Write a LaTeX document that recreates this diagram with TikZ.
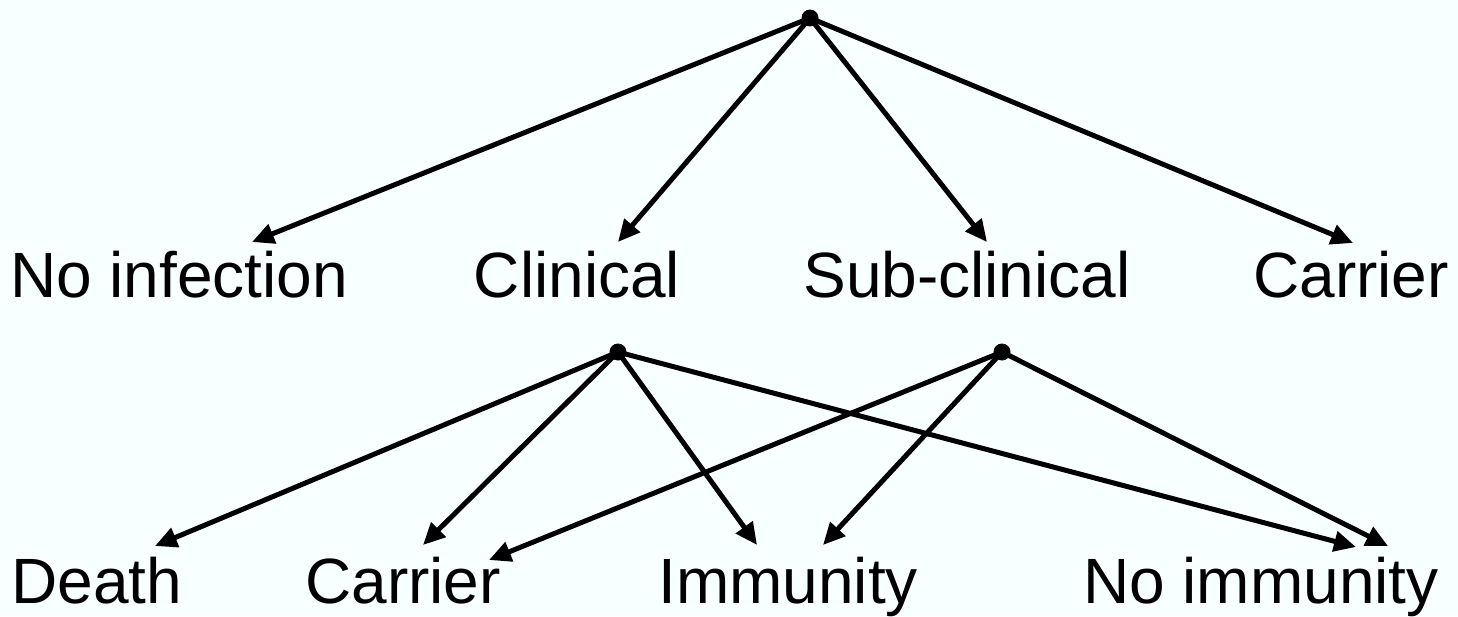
\documentclass[tikz,border=0pt]{standalone}
\usepackage{fontspec}
\setmainfont{Liberation Sans}
\usetikzlibrary{arrows.meta}
\definecolor{bg}{RGB}{248,255,255}
\begin{document}
\begin{tikzpicture}[x=1pt,y=-1pt,
  lbl/.style={anchor=base,inner sep=0pt,font=\fontsize{64}{70}\selectfont},
  dot/.style={circle,fill=black,inner sep=0pt,minimum size=17pt},
  arr/.style={line width=5pt,-{Triangle[length=22pt,width=20pt]}}]
\fill[bg] (0,0) rectangle (1458,616);
\useasboundingbox (0,0) rectangle (1458,616);
% dots
\node[dot] (top) at (810,18) {};
\node[dot] (c1) at (618,352) {};
\node[dot] (c2) at (1002,352) {};
% labels row 1
\node[lbl] (noinf) at (179,297) {No infection};
\node[lbl] (clin) at (577,297) {Clinical};
\node[lbl] (sub) at (967,297) {Sub-clinical};
\node[lbl] (carr1) at (1351,297) {Carrier};
% labels row 2
\node[lbl] (death) at (97,603) {Death};
\node[lbl] (carr2) at (403,603) {Carrier};
\node[lbl] (imm) at (788,603) {Immunity};
\node[lbl] (noimm) at (1261,603) {No immunity};
% arrow tips
\coordinate (t-noinf) at (252,242);
\coordinate (t-clin) at (618,242);
\coordinate (t-sub) at (987,242);
\coordinate (t-carr1) at (1353,243);
\coordinate (t-death) at (155,546);
\coordinate (t-carr2a) at (423,545);
\coordinate (t-carr2b) at (489,560);
\coordinate (t-imma) at (757,545);
\coordinate (t-immb) at (823,545);
\coordinate (t-noimma) at (1356,547);
\coordinate (t-noimmb) at (1388,546);
% arrows
\draw[arr] (top.center) -- (t-noinf);
\draw[arr] (top.center) -- (t-clin);
\draw[arr] (top.center) -- (t-sub);
\draw[arr] (top.center) -- (t-carr1);
\draw[arr] (c1.center) -- (t-death);
\draw[arr] (c1.center) -- (t-carr2a);
\draw[arr] (c1.center) -- (t-imma);
\draw[arr] (c1.center) -- (t-noimma);
\draw[arr] (c2.center) -- (t-carr2b);
\draw[arr] (c2.center) -- (t-immb);
\draw[arr] (c2.center) -- (t-noimmb);
\end{tikzpicture}
\end{document}
